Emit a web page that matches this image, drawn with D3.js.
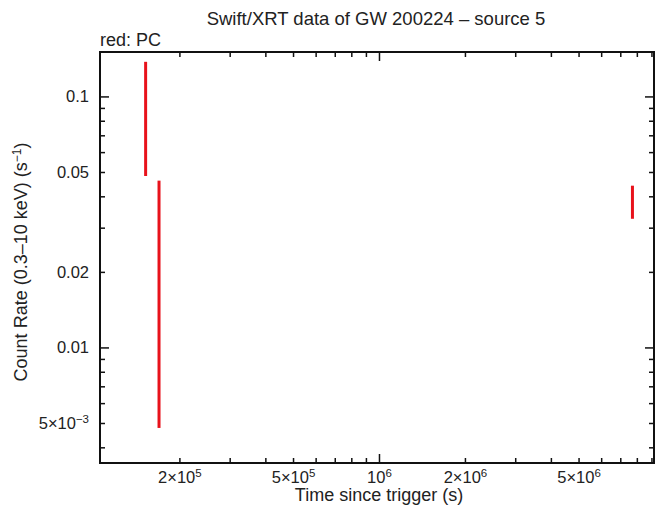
<!DOCTYPE html>
<html><head><meta charset="utf-8">
<script src="https://cdn.jsdelivr.net/npm/d3@7"></script>
<style>body{margin:0;background:#fff}text{font-family:"Liberation Sans",Arial,Helvetica,sans-serif;fill:#222}</style>
</head><body><svg id="c" width="657" height="510"></svg>
<script>
// Data (PC mode): time since trigger (s), count rate and symmetric error (s^-1)
const times = [1.517e5, 1.69e5, 7.69e6];
const rates = [0.0932, 0.0256, 0.0385];
const rateErrs = [0.0448, 0.0208, 0.0058];
const xTicks = [2e5, 5e5, 1e6, 2e6, 5e6];
const xTickLabels = [["2×10","5"],["5×10","5"],["10","6"],["2×10","6"],["5×10","6"]];
const yTicks = [0.1, 0.05, 0.02, 0.01, 0.005];
const yTickLabels = [["0.1",""],["0.05",""],["0.02",""],["0.01",""],["5×10","−3"]];

const svg = d3.select("#c");
const L=100, R=654, T=52, B=463;
const x = d3.scaleLog().domain([1.05e5, 9.15e6]).range([L,R]);
const y = d3.scaleLog().domain([3.48e-3, 0.151]).range([B,T]);

function minorTicks(scale){
  const [a,b]=scale.domain(); const out=[];
  for(let e=Math.floor(Math.log10(a)); e<=Math.ceil(Math.log10(b)); e++)
    for(let m=1;m<10;m++){const v=m*Math.pow(10,e); if(v>=a&&v<=b) out.push(v);}
  return out;
}
const g = svg.append("g");
const xm = minorTicks(x), ym = minorTicks(y);
const isMajor = v => Math.abs(Math.log10(v)-Math.round(Math.log10(v)))<1e-6;
xm.forEach(v=>{
  const len = isMajor(v)?9:5, px=x(v);
  g.append("line").attr("x1",px).attr("x2",px).attr("y1",B).attr("y2",B-len).attr("stroke","#111").attr("stroke-width",1.5);
  g.append("line").attr("x1",px).attr("x2",px).attr("y1",T).attr("y2",T+len).attr("stroke","#111").attr("stroke-width",1.5);
});
ym.forEach(v=>{
  const len = isMajor(v)?9:5, py=y(v);
  g.append("line").attr("y1",py).attr("y2",py).attr("x1",L).attr("x2",L+len).attr("stroke","#111").attr("stroke-width",1.5);
  g.append("line").attr("y1",py).attr("y2",py).attr("x1",R).attr("x2",R-len).attr("stroke","#111").attr("stroke-width",1.5);
});
svg.append("rect").attr("x",L).attr("y",T).attr("width",R-L).attr("height",B-T).attr("fill","none").attr("stroke","#111").attr("stroke-width",2);

function lab(sel, parts){
  sel.append("tspan").text(parts[0]);
  if(parts[1]) sel.append("tspan").attr("dy",-6).attr("font-size",11.5).text(parts[1]);
}
xTicks.forEach((v,i)=>{
  const t=svg.append("text").attr("x",x(v)).attr("y",483).attr("text-anchor","middle").attr("font-size",16.5);
  lab(t,xTickLabels[i]);
});
yTicks.forEach((v,i)=>{
  const t=svg.append("text").attr("x",89).attr("y",y(v)+5.5).attr("text-anchor","end").attr("font-size",16.5);
  lab(t,yTickLabels[i]);
});

const data = times.map((t,i)=>({t, r:rates[i], e:rateErrs[i]}));
svg.append("g").selectAll("line").data(data).join("line")
  .attr("x1",d=>x(d.t)).attr("x2",d=>x(d.t))
  .attr("y1",d=>y(d.r+d.e)).attr("y2",d=>y(d.r-d.e))
  .attr("stroke","#e8121b").attr("stroke-width",3);

svg.append("text").attr("x",376).attr("y",25).attr("text-anchor","middle").attr("font-size",18.5).text("Swift/XRT data of GW 200224 – source 5");
svg.append("text").attr("x",100).attr("y",46).attr("font-size",18).text("red: PC");
svg.append("text").attr("x",379).attr("y",501).attr("text-anchor","middle").attr("font-size",18).text("Time since trigger (s)");
const yl = svg.append("text").attr("transform","translate(27,262) rotate(-90)").attr("text-anchor","middle").attr("font-size",18);
yl.append("tspan").text("Count Rate (0.3–10 keV) (s");
yl.append("tspan").attr("dy",-6).attr("font-size",12).text("−1");
yl.append("tspan").attr("dy",6).text(")");
</script></body></html>
